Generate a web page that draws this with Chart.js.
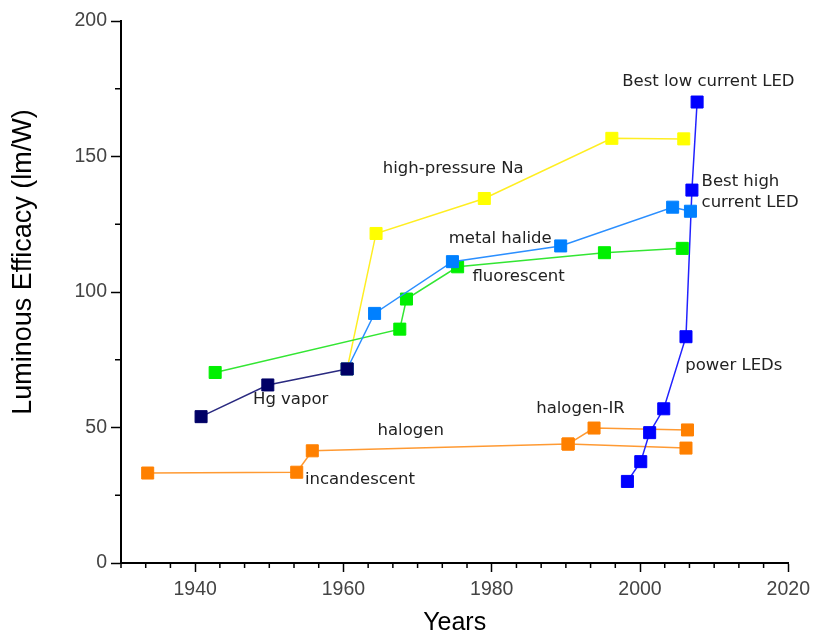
<!DOCTYPE html>
<html>
<head>
<meta charset="utf-8">
<title>Luminous efficacy of light sources</title>
<script src="https://cdn.jsdelivr.net/npm/chart.js@4.4.0/dist/chart.umd.min.js"></script>
<style>
    html, body { margin: 0; padding: 0; background: #fff; }
    #chart-wrap { width: 816px; height: 636px; }
</style>
</head>
<body>
<div id="chart-wrap"><canvas id="efficacy-chart" width="816" height="636"></canvas></div>
<script>
// Years and luminous efficacy (lm/W) per lamp technology
const incandescentYears = [1933.6, 1953.7, 1955.8, 1990.3, 2006.2];
const incandescentValues = [33.2, 33.5, 41.4, 43.9, 42.4];
const halogenIrYears = [1990.3, 1993.8, 2006.4];
const halogenIrValues = [43.9, 49.8, 49.1];
const hgVaporYears = [1940.8, 1949.8, 1960.5];
const hgVaporValues = [54.0, 65.7, 71.6];
const fluorescentYears = [1942.7, 1967.6, 1968.5, 1975.4, 1995.2, 2005.7];
const fluorescentValues = [70.3, 86.3, 97.4, 109.3, 114.5, 116.1];
const metalHalideYears = [1960.5, 1964.2, 1974.7, 1989.3, 2004.4, 2006.8];
const metalHalideValues = [71.6, 92.1, 111.2, 117.0, 131.3, 129.8];
const sodiumYears = [1960.5, 1964.4, 1979.0, 1996.2, 2005.9];
const sodiumValues = [71.6, 121.6, 134.5, 156.7, 156.5];
const ledYears = [1998.3, 2000.1, 2001.3, 2003.2, 2006.2, 2007.0, 2007.7];
const ledValues = [30.1, 37.4, 48.1, 56.9, 83.5, 137.6, 170.1];

// Axis ticks
const xTicks = [1940, 1960, 1980, 2000, 2020];
const yTicks = [0, 50, 100, 150, 200];
const yMinorTicks = [25, 75, 125, 175];
const xMinorStep = 10 / 3;

// Text labels (left edge year, vertical centre value)
const labelTexts = ['Best low current LED', 'Best high', 'current LED', 'power LEDs', 'halogen-IR',
    'halogen', 'incandescent', 'Hg vapor', 'high-pressure Na', 'metal halide', 'fluorescent'];
const labelYears = [1997.6, 2008.3, 2008.3, 2006.1, 1986.0, 1964.6, 1954.8, 1947.8, 1965.3, 1974.2, 1977.4];
const labelValues = [177.5, 140.7, 133.1, 72.7, 57.1, 48.9, 30.7, 60.2, 145.6, 119.5, 105.6];

const sansFont = "'Liberation Sans', Arial, sans-serif";

function toPoints(xs, ys) {
    return xs.map((x, i) => ({ x: x, y: ys[i] }));
}

function series(label, xs, ys, markerColor, lineColor) {
    return {
        label: label,
        data: toPoints(xs, ys),
        borderColor: lineColor,
        borderWidth: 1.5,
        pointStyle: 'rect',
        pointRadius: 8.5,
        pointBorderWidth: 1,
        pointBackgroundColor: markerColor,
        pointBorderColor: markerColor,
        tension: 0,
        fill: false
    };
}

// Small ticks between the labelled ones
const minorTicks = {
    id: 'minorTicks',
    afterDraw(chart) {
        const { ctx, scales: { x, y } } = chart;
        ctx.save();
        ctx.strokeStyle = '#000';
        ctx.lineWidth = 1.5;
        ctx.beginPath();
        for (let i = 0; i < 27; i++) {
            if (i % 6 === 3) continue;
            const px = x.getPixelForValue(x.min + i * xMinorStep);
            ctx.moveTo(px, y.bottom);
            ctx.lineTo(px, y.bottom + 5);
        }
        yMinorTicks.forEach(v => {
            const py = y.getPixelForValue(v);
            ctx.moveTo(x.left - 6, py);
            ctx.lineTo(x.left, py);
        });
        ctx.stroke();
        ctx.restore();
    }
};

// Series names written next to the curves
const seriesLabels = {
    id: 'seriesLabels',
    afterDatasetsDraw(chart) {
        const { ctx, scales: { x, y } } = chart;
        ctx.save();
        ctx.font = "16.5px 'DejaVu Sans', sans-serif";
        ctx.fillStyle = '#222';
        ctx.textAlign = 'left';
        ctx.textBaseline = 'middle';
        labelTexts.forEach((text, i) => {
            ctx.fillText(text, x.getPixelForValue(labelYears[i]), y.getPixelForValue(labelValues[i]));
        });
        ctx.restore();
    }
};

const ctx = document.getElementById('efficacy-chart').getContext('2d');
new Chart(ctx, {
    type: 'line',
    data: {
        datasets: [
            series('Hg vapor', hgVaporYears, hgVaporValues, '#000066', '#2a2a80'),
            series('metal halide', metalHalideYears, metalHalideValues, '#0080ff', '#2b8fff'),
            series('fluorescent', fluorescentYears, fluorescentValues, '#00f000', '#33e633'),
            series('high-pressure Na', sodiumYears, sodiumValues, '#ffff00', '#ffee22'),
            series('LED', ledYears, ledValues, '#0000ff', '#2222ff'),
            series('incandescent / halogen', incandescentYears, incandescentValues, '#ff8000', '#ff9a33'),
            series('halogen-IR', halogenIrYears, halogenIrValues, '#ff8000', '#ff9a33')
        ]
    },
    options: {
        responsive: false,
        animation: false,
        layout: { padding: { top: 21, right: 26, left: 0, bottom: 0 } },
        plugins: {
            legend: { display: false },
            tooltip: { enabled: false }
        },
        scales: {
            x: {
                type: 'linear',
                min: 1930,
                max: 2020,
                afterBuildTicks: scale => { scale.ticks = xTicks.map(v => ({ value: v })); },
                afterFit: scale => { scale.height = 73; },
                grid: { drawOnChartArea: false, drawTicks: true, tickLength: 9, tickColor: '#000', tickWidth: 1.5 },
                border: { display: true, color: '#000', width: 2 },
                ticks: {
                    color: '#444',
                    font: { family: sansFont, size: 19.5 },
                    padding: 6,
                    maxRotation: 0,
                    autoSkip: false,
                    callback: value => String(value)
                },
                title: {
                    display: true,
                    text: 'Years',
                    color: '#000',
                    font: { family: sansFont, size: 25, lineHeight: 1 },
                    padding: { top: 0, bottom: 0 }
                }
            },
            y: {
                type: 'linear',
                min: 0,
                max: 200,
                afterBuildTicks: scale => { scale.ticks = yTicks.map(v => ({ value: v })); },
                afterFit: scale => { scale.width = 121; },
                grid: { drawOnChartArea: false, drawTicks: true, tickLength: 10, tickColor: '#000', tickWidth: 1.5 },
                border: { display: true, color: '#000', width: 2 },
                ticks: {
                    color: '#444',
                    font: { family: sansFont, size: 19.5 },
                    padding: 4,
                    callback: value => String(value)
                },
                title: {
                    display: true,
                    // leading spaces lift the title above the axis centre, as in the original
                    text: '        Luminous Efficacy (lm/W)',
                    color: '#000',
                    font: { family: sansFont, size: 27, lineHeight: 1 },
                    padding: { top: 10, bottom: 0 }
                }
            }
        }
    },
    plugins: [minorTicks, seriesLabels]
});
</script>
</body>
</html>
